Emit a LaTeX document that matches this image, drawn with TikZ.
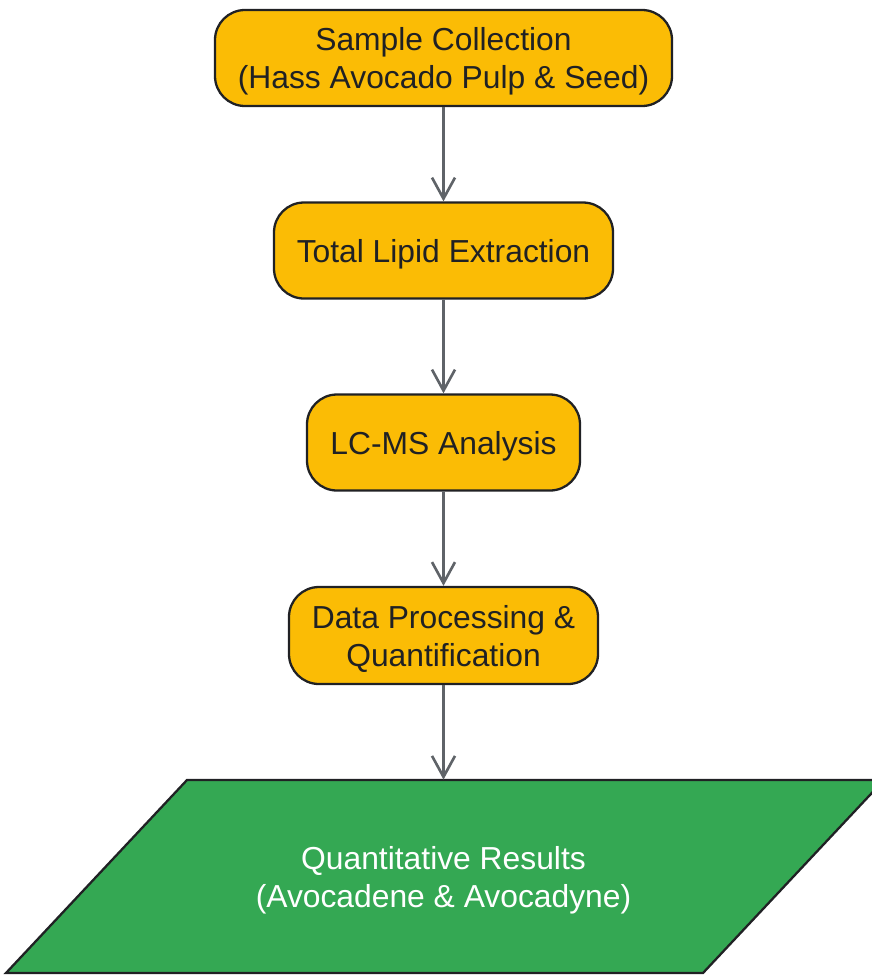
\documentclass[tikz,border=0pt]{standalone}
\usepackage{fontspec}
\setmainfont{Liberation Sans}
\usepackage{tikz}
\usetikzlibrary{arrows.meta}
\definecolor{stepfill}{HTML}{FBBC05}
\definecolor{resfill}{HTML}{34A853}
\definecolor{edgegray}{HTML}{5F6368}
\definecolor{inkdark}{HTML}{202124}

\begin{document}
\begin{tikzpicture}[scale=0.2]
\tikzstyle{every node}+=[inner sep=0pt, font=\fontsize{18.1}{21.6}\selectfont, align=center]
\tikzstyle{oneline}=[text height=17.4pt]
\tikzstyle{twolines}=[text depth=-1pt]
\tikzstyle{stepbox}=[draw=inkdark, line width=1.3pt, fill=stepfill, text=inkdark, rounded corners=0.6cm, minimum height=1.92cm]
\tikzstyle{resedge}=[draw=inkdark, line width=1.3pt, fill=resfill]
\tikzstyle{flow}=[draw=edgegray, line width=1.5pt, -{Straight Barb[length=0.42cm,width=0.46cm,line width=1.5pt]}]

\useasboundingbox (0,0) rectangle (87.2,-97.5);

\node [stepbox, twolines, minimum width=9.14cm] (collect) at (44.35,-5.8) {Sample Collection\\(Hass Avocado Pulp \& Seed)};
\node [stepbox, oneline, minimum width=6.78cm] (extract) at (44.35,-25.05) {Total Lipid Extraction};
\node [stepbox, oneline, minimum width=5.46cm] (lcms) at (44.35,-44.25) {LC-MS Analysis};
\node [stepbox, twolines, minimum width=6.18cm, minimum height=1.94cm] (process) at (44.35,-63.55) {Data Processing \&\\Quantification};

\draw [resedge] (0.6,-97.3) -- (18.7,-78) -- (88.4,-78) -- (70.3,-97.3) -- cycle;
\node [twolines, text=white, minimum width=13.94cm, minimum height=3.86cm] (results) at (44.35,-87.65) {Quantitative Results\\(Avocadene \& Avocadyne)};

\draw [flow] (collect) -- (extract);
\draw [flow] (extract) -- (lcms);
\draw [flow] (lcms) -- (process);
\draw [flow] (process) -- (results);
\end{tikzpicture}
\end{document}
